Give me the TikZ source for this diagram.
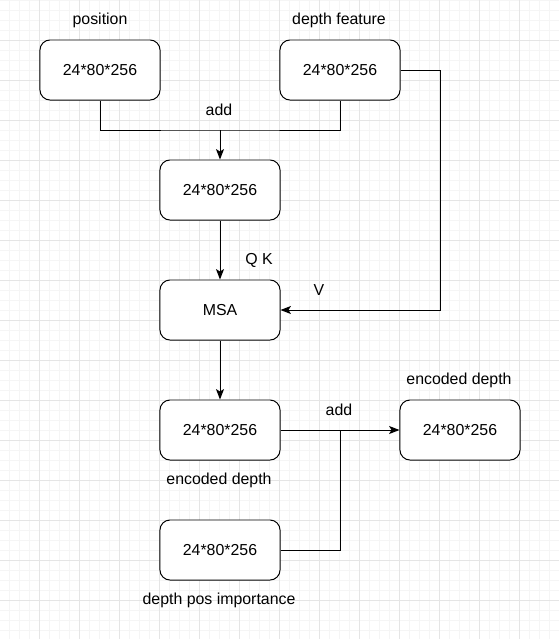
\documentclass[tikz,border=0pt]{standalone}
\usepackage{fontspec}
\setmainfont{Liberation Sans}
\usetikzlibrary{arrows.meta}

\begin{document}
\begin{tikzpicture}[x=0.025cm,y=-0.025cm,
            every node/.style={font=\fontsize{11.3}{13}\selectfont},
            block/.style={draw=black,line width=0.7pt,rounded corners=0.25cm,
                minimum width=3cm,minimum height=1.5cm,inner sep=0pt,fill=white},
            tag/.style={inner sep=1pt},
            link/.style={line width=0.7pt},
            flow/.style={link,-{Stealth[length=0.26cm,width=0.2cm,inset=0.06cm]}}]
            \useasboundingbox (0,0) rectangle (559,639);
            % background grid
            \foreach \i in {0,...,55}
                \draw[black!4,line width=0.4pt] (\i*10+9.5,0) -- (\i*10+9.5,639);
            \foreach \i in {0,...,63}
                \draw[black!4,line width=0.4pt] (0,\i*10) -- (559,\i*10);
            \foreach \i in {0,...,13}
                \draw[black!10,line width=0.5pt] (\i*40+39.5,0) -- (\i*40+39.5,639);
            \foreach \i in {1,...,15}
                \draw[black!10,line width=0.5pt] (0,\i*40) -- (559,\i*40);

            \node[block] (pos) at (100,70) {24*80*256};
            \node[block] (feat) at (340,70) {24*80*256};
            \node[block] (sum) at (220,190) {24*80*256};
            \node[block] (msa) at (220,310) {MSA};
            \node[block] (enc) at (220,430) {24*80*256};
            \node[block] (imp) at (220,550) {24*80*256};
            \node[block] (out) at (460,430) {24*80*256};

            \node[tag] (lpos) at (100,20) {position};
            \node[tag] (lfeat) at (339,20) {depth feature};
            \node[tag] (ladd1) at (219,110) {add};
            \node[tag] (lqk) at (259,260) {Q K};
            \node[tag] (lv) at (319,290) {V};
            \node[tag] (lenc) at (219,480) {encoded depth};
            \node[tag] (ladd2) at (339,410) {add};
            \node[tag] (lout) at (459,380) {encoded depth};
            \node[tag] (limp) at (219,600) {depth pos importance};

            \coordinate (join) at (220,130);
            \coordinate (merge) at (340,430);

            \draw[link] (pos.south) |- (join) -| (feat.south);
            \draw[flow] (join) -- (sum.north);
            \draw[flow] (sum) -- (msa);
            \draw[flow] (feat.east) -- ++(40,0) |- (msa.east);
            \draw[flow] (msa) -- (enc);
            \draw[flow] (enc) -- (out);
            \draw[link] (imp.east) -| (merge);

        \end{tikzpicture}
\end{document}
